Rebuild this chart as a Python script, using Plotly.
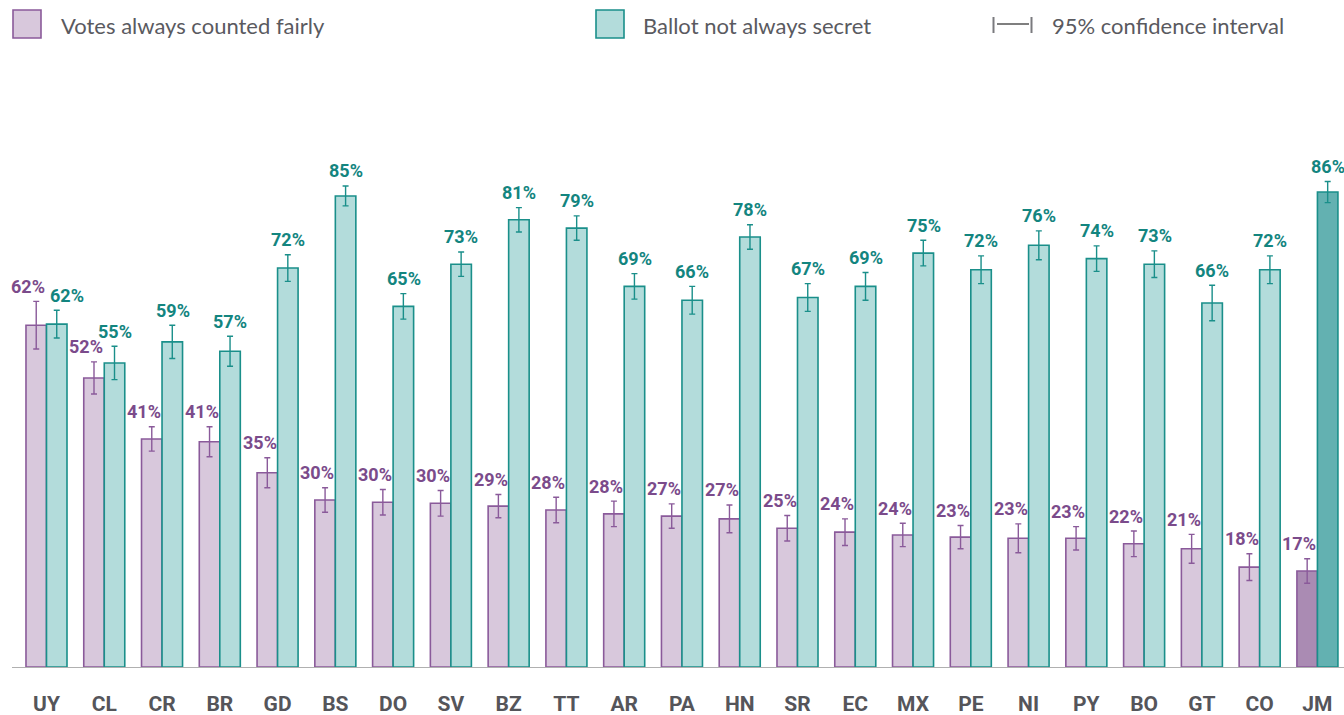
import plotly.graph_objects as go

countries = ["UY","CL","CR","BR","GD","BS","DO","SV","BZ","TT","AR","PA","HN","SR","EC","MX","PE","NI","PY","BO","GT","CO","JM"]
votes_fair = [61.6,52.1,41.1,40.6,35.0,30.1,29.7,29.5,29.0,28.3,27.6,27.2,26.7,25.0,24.3,23.8,23.4,23.2,23.2,22.2,21.3,18.0,17.3]
votes_err  = [4.3,2.9,2.2,2.7,2.7,2.2,2.3,2.3,2.1,2.3,2.3,2.2,2.5,2.3,2.4,2.1,2.1,2.6,2.1,2.3,2.6,2.4,2.2]
ballot_not_secret = [61.8,54.8,58.6,56.9,71.9,84.9,65.0,72.6,80.6,79.1,68.6,66.1,77.5,66.6,68.6,74.6,71.6,76.0,73.6,72.6,65.6,71.6,85.6]
ballot_err = [2.5,3.0,3.0,2.7,2.4,1.8,2.3,2.2,2.2,2.2,2.3,2.5,2.2,2.5,2.5,2.3,2.5,2.6,2.3,2.4,3.2,2.5,1.9]
highlight = "JM"

P_FILL, P_FILL_HI, P_LINE, P_TEXT = "#d8c8dc", "#aa8bb3", "#8a5a9a", "#7b4b8b"
T_FILL, T_FILL_HI, T_LINE, T_TEXT = "#b3dcdb", "#63b1b1", "#1a8f8a", "#13857f"

p_colors = [P_FILL_HI if c == highlight else P_FILL for c in countries]
t_colors = [T_FILL_HI if c == highlight else T_FILL for c in countries]

fig = go.Figure()
fig.add_trace(go.Bar(
    x=countries, y=votes_fair, name="Votes always counted fairly",
    marker=dict(color=p_colors, line=dict(color=P_LINE, width=1.6)),
    error_y=dict(type="data", array=votes_err, color=P_LINE, thickness=1.4, width=3),
))
fig.add_trace(go.Bar(
    x=countries, y=ballot_not_secret, name="Ballot not always secret",
    marker=dict(color=t_colors, line=dict(color=T_LINE, width=1.6)),
    error_y=dict(type="data", array=ballot_err, color=T_LINE, thickness=1.4, width=3),
))

annotations = []
for i, c in enumerate(countries):
    annotations.append(dict(
        x=c, y=votes_fair[i] + votes_err[i], xref="x", yref="y",
        text=f"{round(votes_fair[i])}%", showarrow=False,
        xshift=-18, yshift=15, yanchor="middle", xanchor="center",
        font=dict(family="Roboto", size=18, color=P_TEXT, weight="bold"),
    ))
    annotations.append(dict(
        x=c, y=ballot_not_secret[i] + ballot_err[i], xref="x", yref="y",
        text=f"{round(ballot_not_secret[i])}%", showarrow=False,
        xshift=20.5 if i == 0 else 10.5, yshift=15, yanchor="middle", xanchor="center",
        font=dict(family="Roboto", size=18, color=T_TEXT, weight="bold"),
    ))

# manual legend (pixel -> paper)
L, W, T, B = 12, 1332, 60, 667
H = B - T
def px(x): return (x - L) / W
def py(y): return (B - y) / H

CI_COL = "#7a7a7e"
shapes = [
    dict(type="rect", xref="paper", yref="paper", x0=px(13), x1=px(41), y0=py(38), y1=py(10),
         fillcolor=P_FILL, line=dict(color=P_LINE, width=1.6)),
    dict(type="rect", xref="paper", yref="paper", x0=px(596), x1=px(624), y0=py(38), y1=py(10),
         fillcolor=T_FILL, line=dict(color=T_LINE, width=1.6)),
    dict(type="line", xref="paper", yref="paper", x0=px(993.5), x1=px(993.5), y0=py(33), y1=py(17),
         line=dict(color=CI_COL, width=2)),
    dict(type="line", xref="paper", yref="paper", x0=px(1031.5), x1=px(1031.5), y0=py(33), y1=py(17),
         line=dict(color=CI_COL, width=2)),
    dict(type="line", xref="paper", yref="paper", x0=px(997), x1=px(1029), y0=py(24), y1=py(24),
         line=dict(color="#555", width=1.5)),
]
legend_font = dict(family="Lato", size=22, color="#5a5a5f")
for xpos, txt in [(59, "Votes always counted fairly"), (641, "Ballot not always secret"), (1050, "95% confidence interval")]:
    annotations.append(dict(x=px(xpos), y=py(25), xref="paper", yref="paper", text=txt,
                            showarrow=False, xanchor="left", yanchor="middle", font=legend_font))

fig.update_layout(
    width=1344, height=715,
    margin=dict(l=L, r=0, t=T, b=715 - B),
    barmode="group", bargap=0.29, bargroupgap=0,
    plot_bgcolor="white", paper_bgcolor="white",
    showlegend=False,
    annotations=annotations, shapes=shapes,
)
fig.update_xaxes(
    range=[-0.597, 22.46], showline=True, linecolor="#b0b0b0", linewidth=1.2,
    ticks="", showgrid=False, automargin=False, ticklabelstandoff=18,
    tickfont=dict(family="Roboto", size=21, color="#55555a", weight="bold"),
)
fig.update_yaxes(range=[0, 109.4], visible=False, showgrid=False)

fig.write_html("out.html", config={"displayModeBar": False},
               post_script="document.body.style.margin='0';document.body.style.overflow='hidden';")
